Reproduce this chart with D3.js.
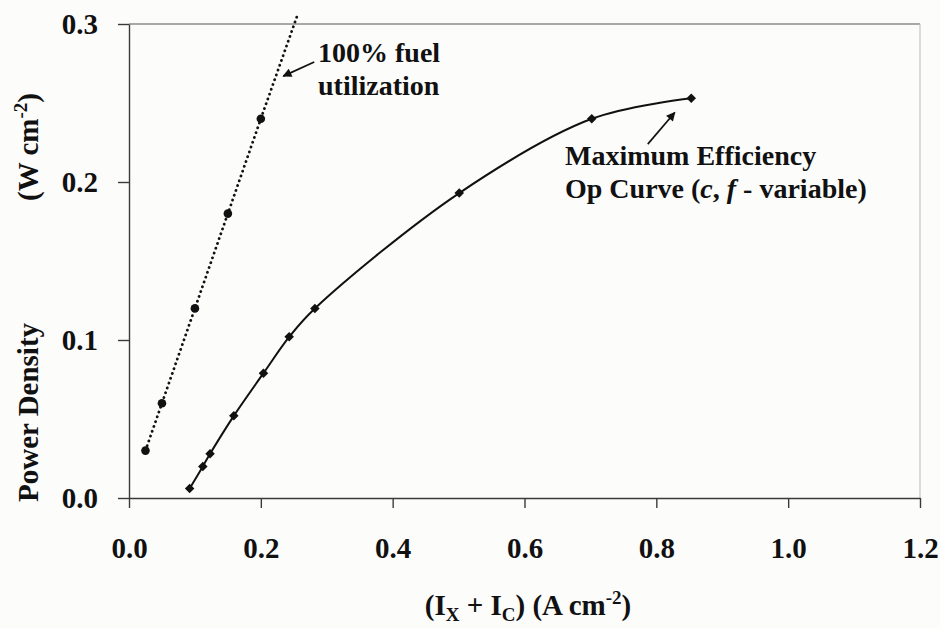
<!DOCTYPE html>
<html>
<head>
<meta charset="utf-8">
<script src="https://cdn.jsdelivr.net/npm/d3@7"></script>
<style>
	body { margin: 0; background: #fcfcfb; }
	svg { display: block; font-family: 'Liberation Serif', 'Times New Roman', serif; font-weight: bold; }
	.axis path, .axis line { stroke: #3a3a3a; stroke-width: 1.4; }
	.axis text { fill: #111; font-size: 29px; font-family: 'Liberation Serif', serif; font-weight: bold; }
</style>
</head>
<body>
<div class="container"></div>
<script>
// 100% fuel utilization (dotted)
var fuelX = [0.025, 0.05, 0.1, 0.15, 0.2];
var fuelY = [0.03, 0.06, 0.12, 0.18, 0.24];
var fuelEnd = [0.255, 0.305];

// maximum efficiency op curve (solid)
var opX = [0.092, 0.112, 0.123, 0.159, 0.204, 0.243, 0.282, 0.501, 0.702, 0.853];
var opY = [0.006, 0.020, 0.028, 0.052, 0.079, 0.102, 0.120, 0.193, 0.240, 0.253];

var xTicks = [0, 0.2, 0.4, 0.6, 0.8, 1.0, 1.2];
var yTicks = [0, 0.1, 0.2, 0.3];

var width = 940,
	height = 628,
	margin = { top: 24, right: 20, bottom: 130, left: 129 };

var svg = d3.select('.container')
	.append('svg')
	.attr('width', width)
	.attr('height', height);

var x = d3.scaleLinear()
	.domain([0, 1.2])
	.range([margin.left, width - margin.right]);

var y = d3.scaleLinear()
	.domain([0, 0.3])
	.range([height - margin.bottom, margin.top]);

// frame (top + faint right side)
svg.append('line')
	.attr('x1', x(0)).attr('x2', x(1.2))
	.attr('y1', y(0.3)).attr('y2', y(0.3))
	.style('stroke', '#555')
	.style('stroke-width', 1.2);

svg.append('line')
	.attr('x1', x(1.2)).attr('x2', x(1.2))
	.attr('y1', y(0.3)).attr('y2', y(0))
	.style('stroke', '#c4c4c4')
	.style('stroke-width', 1.2);

svg.append('g')
	.classed('axis', true)
	.attr('transform', 'translate(0,' + y(0) + ')')
	.call(d3.axisBottom(x)
		.tickValues(xTicks)
		.tickFormat(d3.format('.1f'))
		.tickSizeInner(10)
		.tickSizeOuter(0)
		.tickPadding(29));

svg.append('g')
	.classed('axis', true)
	.attr('transform', 'translate(' + x(0) + ',0)')
	.call(d3.axisLeft(y)
		.tickValues(yTicks)
		.tickFormat(d3.format('.1f'))
		.tickSizeInner(11)
		.tickSizeOuter(0)
		.tickPadding(20));

// dotted line
var fuelPts = fuelX.map(function (v, i) { return [v, fuelY[i]]; });

svg.append('path')
	.datum(fuelPts.concat([fuelEnd]))
	.attr('d', d3.line()
		.x(function (d) { return x(d[0]); })
		.y(function (d) { return y(d[1]); }))
	.style('fill', 'none')
	.style('stroke', '#111')
	.style('stroke-width', 2.8)
	.style('stroke-linecap', 'round')
	.style('stroke-dasharray', '0.1,5');

svg.selectAll('.fuel-dot')
	.data(fuelPts)
	.enter().append('circle')
	.classed('fuel-dot', true)
	.attr('cx', function (d) { return x(d[0]); })
	.attr('cy', function (d) { return y(d[1]); })
	.attr('r', 4.3)
	.style('fill', '#111');

// op curve
var opPts = opX.map(function (v, i) { return [v, opY[i]]; });

svg.append('path')
	.datum(opPts)
	.attr('d', d3.line()
		.curve(d3.curveCatmullRom.alpha(0.5))
		.x(function (d) { return x(d[0]); })
		.y(function (d) { return y(d[1]); }))
	.style('fill', 'none')
	.style('stroke', '#111')
	.style('stroke-width', 2);

svg.selectAll('.op-dot')
	.data(opPts)
	.enter().append('path')
	.classed('op-dot', true)
	.attr('transform', function (d) { return 'translate(' + x(d[0]) + ',' + y(d[1]) + ')'; })
	.attr('d', d3.symbol().type(d3.symbolDiamond2).size(58))
	.style('fill', '#111');

// annotations
var defs = svg.append('defs');
defs.append('marker')
	.attr('id', 'head')
	.attr('viewBox', '0 0 10 10')
	.attr('refX', 9)
	.attr('refY', 5)
	.attr('markerWidth', 11)
	.attr('markerHeight', 9)
	.attr('markerUnits', 'userSpaceOnUse')
	.attr('orient', 'auto')
	.append('path')
	.attr('d', 'M0,0L10,5L0,10Z')
	.style('fill', '#111');

function arrow(x1, y1, x2, y2) {
	svg.append('line')
		.attr('x1', x(x1)).attr('y1', y(y1))
		.attr('x2', x(x2)).attr('y2', y(y2))
		.style('stroke', '#111')
		.style('stroke-width', 1.7)
		.attr('marker-end', 'url(#head)');
}

arrow(0.281, 0.276, 0.234, 0.267);
arrow(0.787, 0.224, 0.828, 0.244);

var note = svg.append('g')
	.style('font-size', '28px')
	.style('fill', '#111');

note.append('text').attr('x', 318).attr('y', 62).text('100% fuel');
note.append('text').attr('x', 318).attr('y', 95).text('utilization');

note.append('text').attr('x', 565).attr('y', 165).text('Maximum Efficiency');

var op = note.append('text').attr('x', 565).attr('y', 198);
op.append('tspan').text('Op Curve (');
op.append('tspan').style('font-style', 'italic').text('c');
op.append('tspan').text(', ');
op.append('tspan').style('font-style', 'italic').text('f');
op.append('tspan').text(' - variable)');

// axis titles
var xt = svg.append('text')
	.attr('x', 528)
	.attr('y', 615)
	.attr('text-anchor', 'middle')
	.style('font-size', '29px')
	.style('fill', '#111');
xt.append('tspan').text('(I');
xt.append('tspan').attr('dy', 6).style('font-size', '19px').text('X');
xt.append('tspan').attr('dy', -6).text(' + I');
xt.append('tspan').attr('dy', 6).style('font-size', '19px').text('C');
xt.append('tspan').attr('dy', -6).text(') (A cm');
xt.append('tspan').attr('dy', -11).style('font-size', '19px').text('-2');
xt.append('tspan').attr('dy', 11).text(')');

svg.append('text')
	.attr('transform', 'translate(38,502) rotate(-90)')
	.style('font-size', '29px')
	.style('fill', '#111')
	.text('Power Density');

var yt = svg.append('text')
	.attr('transform', 'translate(38,93) rotate(-90)')
	.attr('text-anchor', 'end')
	.style('font-size', '29px')
	.style('fill', '#111');
yt.append('tspan').text('(W cm');
yt.append('tspan').attr('dy', -11).style('font-size', '19px').text('-2');
yt.append('tspan').attr('dy', 11).text(')');
</script>
</body>
</html>
